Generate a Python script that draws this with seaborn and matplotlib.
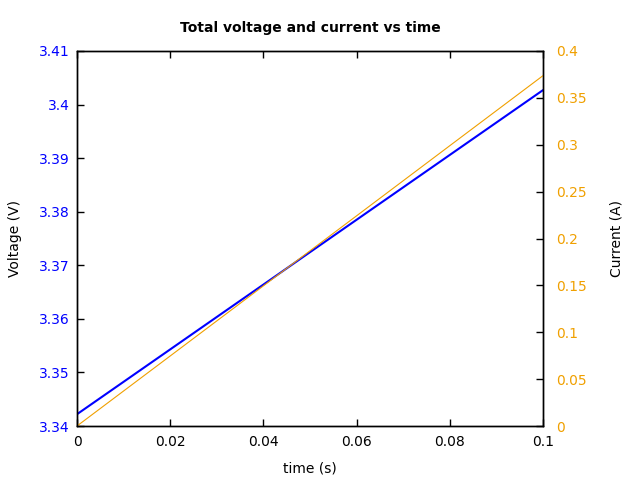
import matplotlib
matplotlib.use("Agg")
import matplotlib.pyplot as plt
import seaborn as sns
import pandas as pd

time_s = [0.0, 0.02, 0.04, 0.06, 0.08, 0.1]
voltage_v = [3.3422, 3.3543, 3.3664, 3.3785, 3.3906, 3.4027]
current_a = [0.0, 0.0747, 0.1495, 0.2242, 0.2990, 0.3737]

volt_ticks = [3.34, 3.35, 3.36, 3.37, 3.38, 3.39, 3.40, 3.41]
volt_labels = ["3.34", "3.35", "3.36", "3.37", "3.38", "3.39", "3.4", "3.41"]
curr_ticks = [0, 0.05, 0.1, 0.15, 0.2, 0.25, 0.3, 0.35, 0.4]
curr_labels = ["0", "0.05", "0.1", "0.15", "0.2", "0.25", "0.3", "0.35", "0.4"]
time_ticks = [0, 0.02, 0.04, 0.06, 0.08, 0.1]
time_labels = ["0", "0.02", "0.04", "0.06", "0.08", "0.1"]

sns.set_style("white")
plt.rcParams['font.family'] = ['DejaVu Sans']
plt.rcParams['text.color'] = 'black'
plt.rcParams['axes.labelcolor'] = 'black'

df = pd.DataFrame({"time": time_s, "voltage": voltage_v, "current": current_a})

fig = plt.figure(figsize=(6.4, 4.8), dpi=100)
ax = fig.add_axes([77/640, 1-426/480, (543-77)/640, (426-51)/480])
ax2 = ax.twinx()

blue = "#0000ff"
orange = "#f0a000"

sns.lineplot(data=df, x="time", y="voltage", ax=ax, color=blue, linewidth=1.5)
sns.lineplot(data=df, x="time", y="current", ax=ax2, color=orange, linewidth=0.8)

ax.set_xlim(0, 0.1)
ax.set_ylim(3.34, 3.41)
ax2.set_ylim(0, 0.4)
ax.set_xticks(time_ticks)
ax.set_xticklabels(time_labels)
ax.set_yticks(volt_ticks)
ax.set_yticklabels(volt_labels)
ax2.set_yticks(curr_ticks)
ax2.set_yticklabels(curr_labels)

for a in (ax, ax2):
    for s in a.spines.values():
        s.set_color("black")
        s.set_linewidth(1.0)

ax.tick_params(axis="x", direction="in", length=5, width=1, colors="black",
               top=True, bottom=True, pad=6.5, labelsize=10)
ax.tick_params(axis="y", direction="in", length=5, width=1, color="black",
               labelcolor=blue, left=True, right=False, pad=5.2, labelsize=10)
ax2.tick_params(axis="y", direction="in", length=5, width=1, color="black",
                labelcolor=orange, right=True, left=False, pad=9.4, labelsize=10)

ax.set_xlabel("time (s)", fontsize=10, color="black")
ax.set_ylabel("Voltage (V)", fontsize=10, color="black")
ax2.set_ylabel("Current (A)", fontsize=10, color="black")
ax.xaxis.set_label_coords(0.5, (426-462)/375)
ax.yaxis.set_label_coords((22-77)/466, 0.5)
ax2.yaxis.set_label_coords((610-77)/466, 0.5)
ax.set_title("Total voltage and current vs time", fontsize=10, fontweight="bold",
             pad=13.4, color="black")

fig.savefig("out.png", dpi=100)
